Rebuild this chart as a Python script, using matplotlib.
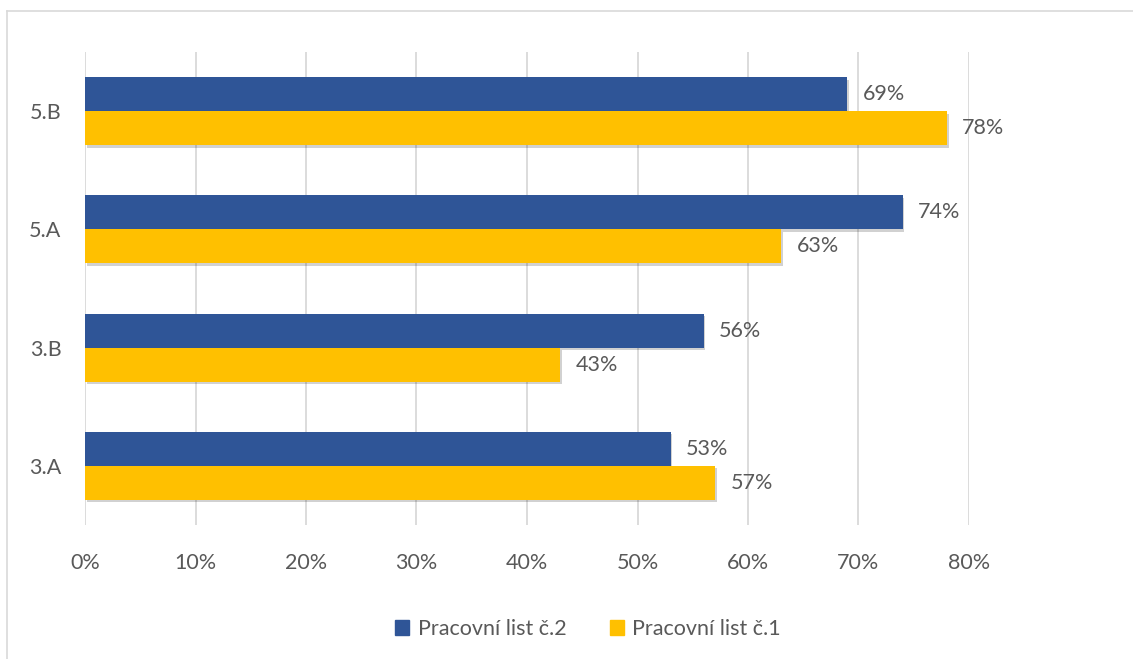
import numpy as np
import matplotlib.pyplot as plt
from matplotlib.lines import Line2D
from matplotlib.patches import Patch
import matplotlib.patheffects as pe

# data
classes = ['3.A', '3.B', '5.A', '5.B']
list2 = [53, 56, 74, 69]   # Pracovní list č.2
list1 = [57, 43, 63, 78]   # Pracovní list č.1
x_ticks = [0, 10, 20, 30, 40, 50, 60, 70, 80]

plt.rcParams['font.family'] = ['Lato', 'DejaVu Sans']
text_col = '#595959'
blue, gold = '#2f5597', '#ffc000'
fs = 15.5

W, H = 1133, 659
fig = plt.figure(figsize=(W / 100, H / 100), dpi=100)

# light gray chart border, only top and left edges are inside the picture
fig.lines.append(Line2D([6.5 / W, 1], [1 - 10.5 / H, 1 - 10.5 / H], transform=fig.transFigure,
                        color='#d9d9d9', linewidth=1.2))
fig.lines.append(Line2D([6.5 / W, 6.5 / W], [0, 1 - 10.5 / H], transform=fig.transFigure,
                        color='#d9d9d9', linewidth=1.2))

ax = fig.add_axes([85 / W, 1 - 525 / H, 884 / W, 473 / H])
y = np.arange(len(classes))
h = 0.288
shadow = [pe.SimplePatchShadow(offset=(1.2, -1.8), shadow_rgbFace='#000000', alpha=0.18), pe.Normal()]

b2 = ax.barh(y + h / 2, list2, height=h, color=blue, path_effects=shadow, zorder=3)
b1 = ax.barh(y - h / 2, list1, height=h, color=gold, path_effects=shadow, zorder=3)

for bars, vals in ((b2, list2), (b1, list1)):
    for bar, v in zip(bars, vals):
        ax.text(v + 1.4, bar.get_y() + bar.get_height() / 2, f'{v}%', va='center', ha='left',
                fontsize=fs, color=text_col)

ax.set_xlim(0, 80)
ax.set_ylim(-0.5, 3.5)
ax.set_xticks(x_ticks)
ax.set_xticklabels([f'{t}%' for t in x_ticks])
ax.set_yticks(y)
ax.set_yticklabels(classes)
ax.tick_params(length=0, labelsize=fs, labelcolor=text_col)
ax.tick_params(axis='x', pad=20)
ax.tick_params(axis='y', pad=17)
ax.grid(axis='x', color='#d9d9d9', linewidth=1.3, zorder=0)
for s in ax.spines.values():
    s.set_visible(False)

handles = [Patch(color=blue, label='Pracovní list č.2'), Patch(color=gold, label='Pracovní list č.1')]
ax.legend(handles=handles, loc='center', bbox_to_anchor=(588 / W, 1 - 629 / H),
          bbox_transform=fig.transFigure, ncol=2, frameon=False, fontsize=fs,
          labelcolor=text_col, handlelength=0.65, handleheight=0.65, handletextpad=0.4,
          columnspacing=2.0)

fig.savefig('out.png', dpi=100)
